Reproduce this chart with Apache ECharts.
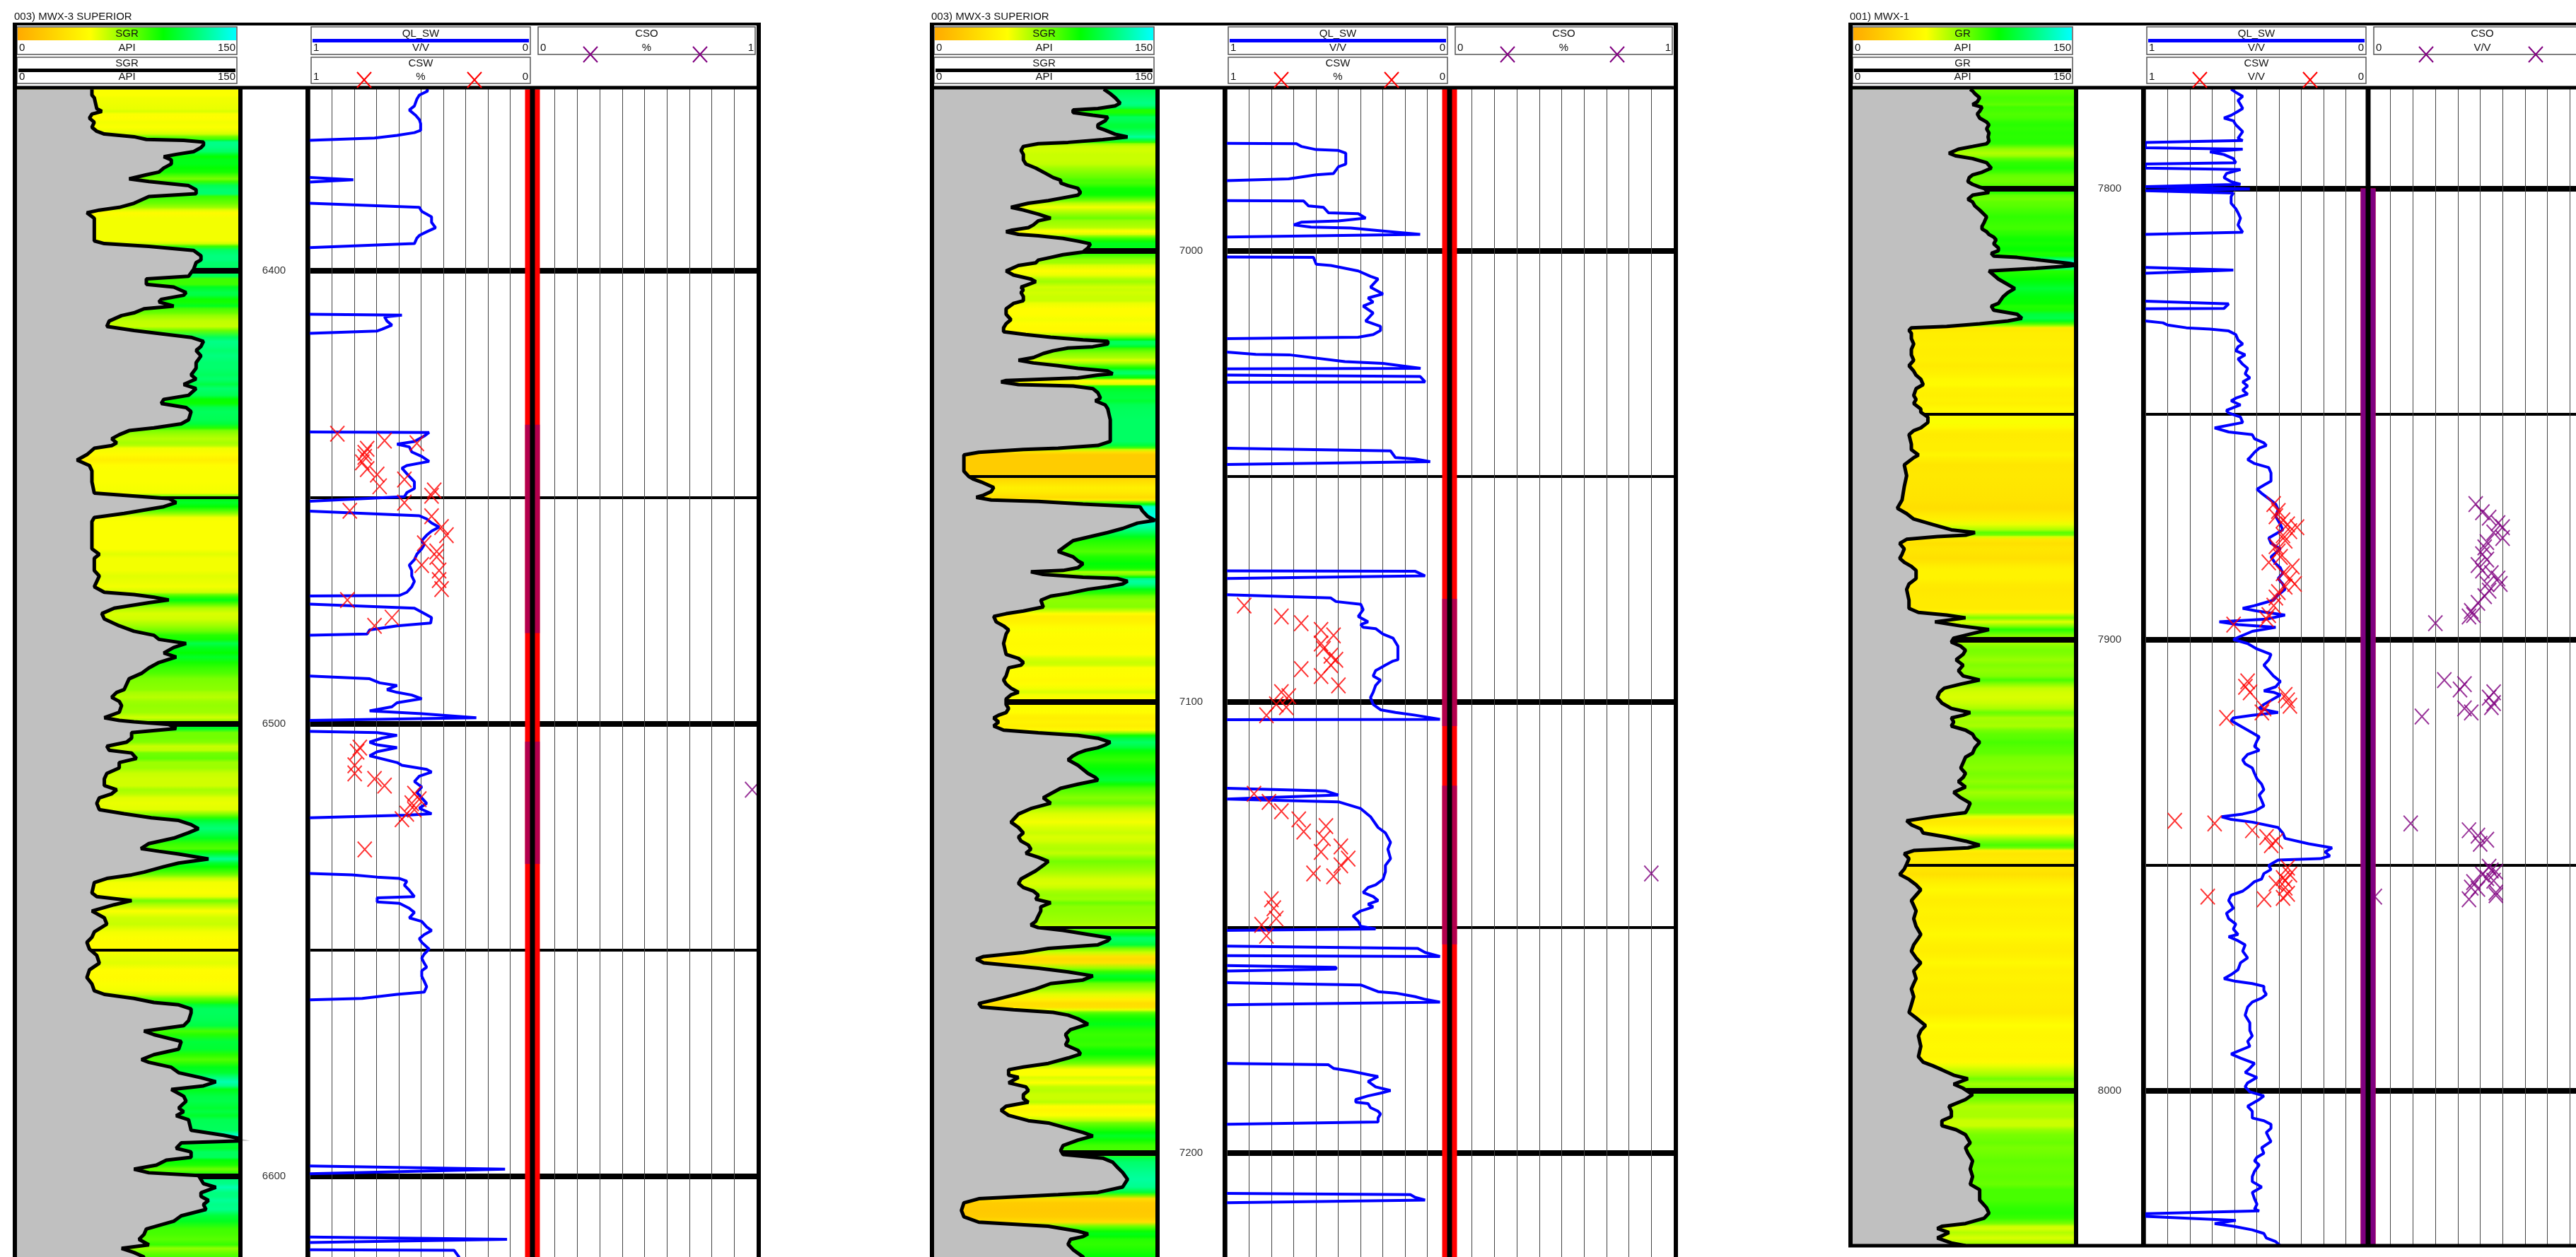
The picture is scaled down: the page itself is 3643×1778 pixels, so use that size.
<!DOCTYPE html>
<html><head><meta charset="utf-8">
<script src="https://cdn.jsdelivr.net/npm/echarts@6/dist/echarts.min.js"></script>
<style>html,body{margin:0;padding:0;background:#fff}#c{width:3643px;height:1778px}</style>
</head><body><div id="c"></div>
<script>
// ---------------- DATA ----------------
const WELL_TITLES = ["003) MWX-3 SUPERIOR", "003) MWX-3 SUPERIOR", "001) MWX-1"];
const GR_NAMES = ["SGR", "SGR", "GR"];
const CSW_UNITS = ["%", "%", "V/V"];
const CSO_UNITS = ["%", "%", "V/V"];
const GR_RANGE = [0, 150];
const SAT_RANGE = [0, 1];

// [depth ft, GR API]
const P1_GR = [[6359.9,50.8],[6361.2,50.8],[6361.8,52.4],[6364.2,54.1],[6364.8,57.5],[6365.4,50.8],[6366.3,49.1],[6367.2,52.4],[6368.3,50.8],[6369.2,54.1],[6369.8,59.2],[6370.4,79.3],[6371.0,87.7],[6371.2,113.0],[6371.6,126.4],[6372.2,126.4],[6372.8,124.7],[6373.7,119.7],[6374.3,107.9],[6374.8,99.5],[6375.5,104.6],[6376.4,104.6],[6377.3,99.5],[6378.2,96.2],[6378.8,87.7],[6379.7,76.0],[6380.3,89.4],[6381.2,116.3],[6382.1,121.4],[6383.0,121.4],[6383.6,89.4],[6385.1,79.3],[6386.0,69.3],[6386.6,55.8],[6387.2,47.4],[6388.4,52.4],[6391.6,52.4],[6393.4,52.4],[6394.0,59.2],[6394.6,89.4],[6395.5,119.7],[6396.7,124.7],[6397.6,124.7],[6398.2,121.4],[6399.7,119.7],[6401.2,116.3],[6401.8,87.7],[6403.0,87.7],[6403.6,106.2],[6404.8,114.6],[6405.4,113.0],[6406.3,97.8],[6406.9,96.2],[6407.8,106.2],[6408.4,86.1],[6409.3,79.3],[6409.9,70.9],[6411.1,62.5],[6412.3,60.9],[6413.2,79.3],[6414.7,118.0],[6415.6,126.4],[6416.7,124.7],[6417.6,121.4],[6418.8,124.7],[6420.3,121.4],[6421.5,121.4],[6423.0,118.0],[6423.9,121.4],[6425.1,113.0],[6426.0,121.4],[6427.5,116.3],[6428.4,99.5],[6429.3,97.8],[6430.2,114.6],[6431.1,118.0],[6432.9,116.3],[6433.8,111.3],[6434.7,92.8],[6435.3,76.0],[6436.2,69.3],[6437.1,64.2],[6438.0,67.6],[6438.6,64.2],[6439.2,52.4],[6440.6,47.4],[6441.8,40.7],[6443.0,49.1],[6444.2,50.8],[6446.6,50.8],[6449.1,52.4],[6450.3,102.9],[6451.2,107.9],[6452.1,99.5],[6453.6,72.6],[6454.5,52.4],[6455.4,50.8],[6457.8,50.8],[6461.4,50.8],[6462.6,55.8],[6463.5,52.4],[6466.2,52.4],[6467.4,55.8],[6468.6,54.1],[6469.8,52.4],[6471.0,59.2],[6471.5,79.3],[6472.1,92.8],[6472.7,102.9],[6473.3,89.4],[6474.5,65.9],[6475.7,57.5],[6476.9,59.2],[6478.4,69.3],[6479.6,79.3],[6480.5,92.8],[6481.4,96.2],[6482.3,114.6],[6483.2,106.2],[6484.4,99.5],[6485.3,107.9],[6486.5,96.2],[6487.7,89.4],[6488.9,84.4],[6490.1,76.0],[6491.3,74.3],[6492.5,72.6],[6493.1,67.6],[6494.2,64.2],[6495.1,69.3],[6496.0,70.9],[6497.5,69.3],[6498.7,59.2],[6499.3,69.3],[6499.6,79.3],[6500.2,102.9],[6501.1,107.9],[6502.0,77.7],[6503.2,77.7],[6504.1,74.3],[6505.0,60.9],[6505.9,62.5],[6506.5,77.7],[6507.7,81.0],[6508.6,69.3],[6509.8,69.3],[6511.0,60.9],[6512.2,59.2],[6513.7,59.2],[6514.6,67.6],[6515.5,64.2],[6516.4,55.8],[6517.6,54.1],[6519.0,55.8],[6519.9,72.6],[6520.8,91.1],[6521.4,109.6],[6522.3,118.0],[6523.2,123.0],[6524.1,116.3],[6525.3,106.2],[6526.5,89.4],[6527.6,84.0],[6528.2,96.2],[6528.8,109.6],[6529.9,129.8],[6530.8,109.6],[6531.6,99.5],[6532.8,86.1],[6533.4,77.7],[6534.2,60.9],[6535.1,52.4],[6537.4,50.8],[6538.2,54.1],[6539.1,77.7],[6540.0,65.9],[6541.4,50.8],[6542.9,59.2],[6544.3,60.9],[6546.0,52.4],[6547.2,50.8],[6548.3,47.4],[6549.8,49.1],[6551.2,54.1],[6552.9,55.8],[6554.4,49.1],[6556.1,47.4],[6557.5,50.8],[6559.0,52.4],[6559.8,59.2],[6560.7,79.3],[6561.6,92.8],[6562.1,109.6],[6563.0,118.0],[6563.9,118.0],[6565.6,116.3],[6566.7,113.0],[6567.9,86.1],[6568.7,92.8],[6570.2,111.3],[6571.9,109.6],[6573.1,92.8],[6574.2,84.4],[6574.8,89.4],[6575.9,104.6],[6577.1,109.6],[6578.2,124.7],[6579.1,134.8],[6580.0,126.4],[6580.8,104.6],[6582.3,113.0],[6583.4,114.6],[6584.9,109.6],[6585.7,113.0],[6586.6,107.9],[6587.5,116.3],[6589.8,118.0],[6590.9,139.9],[6592.1,158.0],[6592.6,111.3],[6593.8,107.9],[6594.6,118.0],[6595.8,118.0],[6596.4,101.2],[6597.5,94.5],[6598.4,79.3],[6599.2,89.4],[6599.8,123.0],[6601.6,126.4],[6602.4,134.8],[6603.6,124.7],[6604.4,124.7],[6605.3,129.8],[6606.2,126.4],[6607.3,128.1],[6608.7,111.3],[6609.9,106.2],[6611.6,87.7],[6612.8,86.1],[6613.9,82.7],[6615.1,89.4],[6615.9,70.9],[6616.8,79.3],[6617.8,86.1],[6620.0,84.0]];

// [depth, SW v/v]; null = gap
const P1_SW = [[6359.9,0.475],[6360.3,0.470],[6361.2,0.508],[6362.1,0.519],[6363.6,0.530],[6364.5,0.553],[6365.7,0.524],[6366.6,0.508],[6367.5,0.502],[6369.0,0.502],[6369.5,0.530],[6370.1,0.608],[6370.7,0.709],[6371.2,1.0],null,
[6379.4,1.0],[6379.9,0.804],[6380.4,1.0],null,
[6385.1,1.0],[6386.0,0.508],[6386.9,0.497],[6388.1,0.453],[6389.3,0.453],[6390.5,0.435],[6391.4,0.475],[6392.2,0.508],[6392.8,0.519],[6394.0,0.530],[6394.3,0.697],[6394.9,1.0],null,
[6409.6,1.0],[6409.8,0.586],[6410.2,0.664],[6411.1,0.653],[6412.0,0.631],[6412.9,0.675],[6413.3,0.697],[6413.8,1.0],null,
[6435.6,1.0],[6435.7,0.464],[6436.5,0.486],[6437.7,0.530],[6438.3,0.608],[6438.9,0.553],[6440.0,0.542],[6441.0,0.497],[6442.1,0.464],[6443.0,0.564],[6443.6,0.586],[6445.4,0.553],[6446.6,0.530],[6448.1,0.530],[6449.0,0.564],[6449.9,0.575],[6450.9,1.0],null,
[6453.1,1.0],[6454.1,0.508],[6454.8,0.475],[6455.7,0.453],[6456.6,0.419],[6457.5,0.453],[6458.4,0.475],[6459.6,0.497],[6460.5,0.486],[6461.4,0.497],[6462.6,0.519],[6463.8,0.530],[6465.0,0.553],[6466.2,0.542],[6467.4,0.542],[6468.6,0.530],[6469.8,0.542],[6471.0,0.564],[6471.7,0.597],[6471.8,1.0],null,
[6473.6,1.0],[6474.5,0.530],[6475.7,0.486],[6476.6,0.453],[6477.8,0.457],[6478.4,0.608],[6479.3,0.731],[6480.2,0.742],[6480.5,1.0],null,
[6489.5,1.0],[6490.1,0.731],[6491.0,0.686],[6491.6,0.608],[6492.5,0.653],[6493.1,0.608],[6493.7,0.542],[6494.5,0.497],[6495.4,0.608],[6496.3,0.631],[6497.2,0.731],[6497.8,0.497],[6498.7,0.252],[6499.3,1.0],null,
[6501.7,1.0],[6502.0,0.697],[6502.6,0.608],[6503.2,0.675],[6504.1,0.731],[6504.7,0.697],[6505.3,0.608],[6506.2,0.697],[6507.1,0.731],[6508.6,0.608],[6509.2,0.586],[6510.1,0.475],[6510.7,0.453],[6511.6,0.508],[6512.8,0.530],[6514.0,0.497],[6515.2,0.519],[6516.4,0.497],[6517.6,0.475],[6518.7,0.508],[6519.9,0.453],[6520.2,0.564],[6520.8,1.0],null,
[6533.1,1.0],[6533.4,0.809],[6533.9,0.697],[6534.2,0.597],[6534.8,0.564],[6535.7,0.575],[6536.8,0.553],[6538.2,0.530],[6538.5,0.697],[6539.4,0.697],[6539.7,0.597],[6540.8,0.553],[6541.7,0.530],[6542.9,0.553],[6543.7,0.497],[6544.9,0.475],[6545.7,0.453],[6546.6,0.486],[6547.5,0.508],[6548.3,0.497],[6549.8,0.464],[6550.9,0.486],[6551.8,0.497],[6552.9,0.486],[6553.8,0.475],[6554.6,0.497],[6555.8,0.497],[6556.9,0.486],[6558.1,0.475],[6559.3,0.486],[6559.8,0.608],[6560.7,0.764],[6561.0,1.0],null,
[6597.7,1.0],[6598.4,0.123],[6599.4,1.0],null,
[6613.4,1.0],[6613.9,0.114],[6614.6,1.0],null,
[6616.2,1.0],[6616.3,0.352],[6617.8,0.330],[6620.0,0.330]];

// core points [depth, value]
const P1_CSW = [[6436.0,0.876],[6437.5,0.664],[6438.1,0.519],[6439.3,0.742],[6440.2,0.753],[6441.1,0.753],[6442.3,0.764],[6443.8,0.742],[6445.0,0.697],[6446.1,0.575],[6447.6,0.686],[6448.5,0.441],[6449.7,0.453],[6451.2,0.575],[6453.0,0.820],[6454.2,0.453],[6456.6,0.408],[6458.4,0.386],[6460.2,0.486],[6462.0,0.430],[6463.2,0.430],[6465.0,0.497],[6466.2,0.419],[6468.3,0.419],[6470.3,0.408],[6472.7,0.831],[6476.6,0.631],[6478.4,0.709],[6505.3,0.775],[6506.2,0.787],[6509.2,0.798],[6511.0,0.798],[6512.2,0.709],[6513.7,0.664],[6515.5,0.530],[6516.7,0.508],[6517.6,0.542],[6519.0,0.530],[6519.9,0.564],[6521.1,0.586],[6527.8,0.753]];
const P1_CSO = [[6514.6,0.98]];
// depth intervals where the core curve reads 0 [top, bottom]
const P1_CSW_ZERO = [[6359.9,6620.0]];
const P1_CSO_ZERO = [[6434.0,6480.0],[6504.0,6531.0]];

const P2_GR = [[6964.2,115.0],[6965.2,119.4],[6966.1,122.7],[6967.3,126.1],[6967.9,122.7],[6968.5,111.0],[6968.8,94.2],[6969.4,94.2],[6970.0,107.6],[6970.4,117.7],[6971.2,116.0],[6972.1,111.0],[6972.7,111.0],[6973.3,116.0],[6974.2,122.7],[6974.8,131.1],[6975.4,114.3],[6976.0,90.8],[6976.3,70.6],[6976.9,60.5],[6977.8,58.9],[6978.7,60.5],[6979.9,60.5],[6980.8,62.2],[6981.7,68.9],[6982.9,75.7],[6983.8,80.7],[6984.4,85.8],[6985.0,85.8],[6985.6,90.8],[6986.2,97.5],[6987.1,99.2],[6987.7,97.5],[6988.3,87.4],[6988.9,77.4],[6989.5,63.9],[6990.4,52.1],[6991.0,60.5],[6991.9,70.6],[6992.8,79.0],[6993.4,70.6],[6994.3,67.3],[6994.9,63.9],[6995.5,52.1],[6995.8,48.8],[6996.4,57.2],[6996.7,70.6],[6997.3,87.4],[6997.9,97.5],[6998.5,105.9],[6999.4,104.3],[7000.3,100.9],[7000.9,87.4],[7001.5,79.0],[7002.1,70.6],[7002.7,68.9],[7003.3,57.2],[7004.5,48.8],[7005.4,53.8],[7006.3,65.6],[7006.9,68.9],[7007.5,63.9],[7008.1,58.9],[7008.7,60.5],[7009.3,58.9],[7010.2,60.5],[7011.1,60.5],[7011.7,53.8],[7012.9,48.8],[7014.1,48.8],[7015.3,52.1],[7016.2,48.8],[7017.1,47.1],[7018.0,47.1],[7018.6,62.2],[7019.2,79.0],[7019.8,100.9],[7020.1,117.7],[7020.7,117.7],[7021.3,107.6],[7021.6,90.8],[7022.2,80.7],[7022.8,74.0],[7023.7,67.3],[7024.3,57.2],[7024.9,67.3],[7025.5,84.1],[7026.1,97.5],[7026.7,117.7],[7027.3,121.0],[7027.6,111.0],[7028.2,97.5],[7028.8,48.8],[7029.1,45.4],[7029.7,57.2],[7030.0,94.2],[7030.6,107.6],[7031.5,111.0],[7032.7,112.7],[7033.3,109.3],[7034.2,116.0],[7035.1,117.7],[7037.5,119.4],[7042.3,119.4],[7043.2,111.0],[7043.8,84.1],[7044.1,60.5],[7044.7,30.3],[7045.3,20.2],[7046.5,20.2],[7048.9,20.2],[7050.1,23.6],[7050.7,26.9],[7051.3,32.0],[7052.5,40.4],[7053.4,38.7],[7054.2,33.6],[7054.7,28.6],[7055.3,38.7],[7055.6,70.6],[7056.2,100.9],[7056.8,139.6],[7057.7,141.2],[7058.9,144.6],[7059.8,149.6],[7060.4,137.9],[7061.6,127.8],[7062.5,117.7],[7063.4,105.9],[7064.3,94.2],[7065.5,89.1],[7066.7,84.1],[7067.9,94.2],[7068.8,97.5],[7069.4,100.9],[7070.3,97.5],[7070.9,87.4],[7071.2,65.6],[7071.8,74.0],[7072.4,100.9],[7072.7,124.4],[7073.3,131.1],[7073.9,127.8],[7074.5,117.7],[7075.1,104.3],[7076.0,90.8],[7076.6,79.0],[7077.5,72.3],[7079.0,74.0],[7079.9,60.5],[7080.5,48.8],[7081.1,40.4],[7082.3,42.1],[7083.2,47.1],[7084.1,50.5],[7085.0,48.8],[7087.1,47.1],[7089.5,48.8],[7090.4,57.2],[7091.3,60.5],[7091.9,58.9],[7092.5,50.5],[7094.3,48.8],[7095.2,47.1],[7096.1,48.8],[7097.0,52.1],[7097.9,57.2],[7098.5,52.1],[7099.4,48.8],[7100.6,48.8],[7101.5,50.5],[7102.4,48.8],[7103.0,43.7],[7103.6,40.4],[7104.5,43.7],[7105.4,40.4],[7106.3,47.1],[7106.9,70.6],[7107.5,97.5],[7108.1,111.0],[7109.0,119.4],[7109.6,116.0],[7110.2,111.0],[7110.8,102.6],[7111.4,97.5],[7112.0,94.2],[7112.9,90.8],[7114.1,97.5],[7115.0,100.9],[7115.9,104.3],[7116.8,109.3],[7117.4,111.0],[7118.3,97.5],[7119.2,85.8],[7120.1,80.7],[7121.3,74.0],[7122.5,79.0],[7123.7,65.6],[7124.9,57.2],[7125.5,55.5],[7126.7,52.1],[7127.9,57.2],[7129.1,60.5],[7130.0,57.2],[7130.9,58.9],[7131.8,63.9],[7132.7,65.6],[7133.6,62.2],[7134.5,70.6],[7135.4,77.4],[7136.3,74.0],[7137.5,68.9],[7138.4,63.9],[7139.3,58.9],[7140.3,57.2],[7141.2,60.5],[7142.0,67.3],[7142.9,70.6],[7143.8,68.9],[7144.6,79.0],[7145.5,72.3],[7146.4,72.3],[7147.5,70.6],[7148.7,68.9],[7149.5,65.6],[7150.1,70.6],[7150.7,87.4],[7151.6,104.3],[7152.4,119.4],[7153.0,117.7],[7153.9,111.0],[7154.7,77.4],[7155.6,60.5],[7156.5,33.6],[7157.1,28.6],[7157.9,33.6],[7159.1,70.6],[7159.9,90.8],[7160.8,107.6],[7161.7,100.9],[7162.5,79.0],[7163.7,68.9],[7164.9,55.5],[7166.0,42.1],[7166.9,30.3],[7167.7,32.0],[7168.3,53.8],[7168.9,80.7],[7169.5,90.8],[7170.3,97.5],[7171.5,104.3],[7172.7,92.5],[7173.8,89.1],[7175.0,90.8],[7176.1,89.1],[7177.3,97.5],[7178.1,99.2],[7179.0,90.8],[7180.2,77.4],[7181.0,60.5],[7181.6,50.5],[7182.8,50.5],[7183.3,57.2],[7184.5,50.5],[7185.4,62.2],[7186.2,63.9],[7187.1,60.5],[7188.0,60.5],[7188.8,63.9],[7189.7,48.8],[7190.6,45.4],[7191.7,50.5],[7192.9,63.9],[7193.4,77.4],[7194.6,90.8],[7195.5,100.9],[7196.3,107.6],[7197.2,97.5],[7198.4,87.4],[7199.5,85.8],[7200.4,87.4],[7201.2,114.3],[7202.1,121.0],[7203.3,124.4],[7204.4,127.8],[7205.9,131.1],[7207.6,127.8],[7208.8,111.0],[7209.3,84.1],[7210.2,30.3],[7211.1,20.2],[7212.8,18.5],[7214.2,20.2],[7215.4,30.3],[7216.3,77.4],[7217.4,97.5],[7218.0,104.3],[7218.6,100.9],[7219.2,92.5],[7220.3,90.8],[7221.5,94.2],[7223.1,100.9],[7226.0,105.0]];

const P2_SW = [[6976.2,1.0],[6976.3,0.688],[6976.9,0.666],[6977.6,0.599],[6977.8,0.499],[6978.4,0.466],[6980.8,0.466],[6981.4,0.499],[6982.9,0.521],[6983.2,0.599],[6984.1,0.722],[6984.5,1.0],null,
[6988.9,1.0],[6989.0,0.655],[6990.1,0.633],[6990.4,0.566],[6991.6,0.544],[6991.8,0.410],[6992.8,0.377],[6993.4,0.499],[6993.7,0.666],[6994.3,0.700],[6994.8,0.622],[6995.0,0.444],[6995.8,0.265],[6996.4,0.132],[6997.0,1.0],null,
[7001.4,1.0],[7001.5,0.611],[7003.0,0.599],[7003.3,0.533],[7004.5,0.410],[7005.7,0.355],[7006.3,0.321],[7008.1,0.355],[7009.6,0.299],[7010.5,0.366],[7011.4,0.343],[7012.3,0.388],[7013.8,0.343],[7015.6,0.377],[7016.8,0.310],[7017.7,0.310],[7018.6,0.343],[7019.2,0.410],[7019.5,1.0],null,
[7022.5,1.0],[7023.0,0.870],[7023.1,0.720],[7024.6,0.470],[7025.0,0.300],[7026.1,0.130],[7026.2,1.0],null,
[7027.6,1.0],[7027.9,0.132],[7029.1,0.110],[7029.2,1.0],null,
[7043.8,1.0],[7044.4,0.265],[7045.9,0.243],[7046.2,0.154],[7046.8,0.087],[7047.4,1.0],null,
[7071.0,1.0],[7071.1,0.154],[7072.1,0.110],[7072.7,1.0],null,
[7076.3,1.0],[7077.0,0.533],[7077.8,0.510],[7078.4,0.399],[7079.6,0.388],[7081.1,0.410],[7082.3,0.366],[7082.9,0.399],[7083.5,0.388],[7083.8,0.332],[7085.0,0.299],[7085.9,0.254],[7087.7,0.232],[7090.7,0.232],[7091.0,0.254],[7091.9,0.288],[7092.5,0.310],[7093.1,0.332],[7094.3,0.343],[7095.2,0.310],[7096.4,0.332],[7097.9,0.343],[7099.1,0.355],[7100.6,0.343],[7101.8,0.310],[7102.4,0.243],[7103.0,0.154],[7103.9,0.043],[7104.0,1.0],null,
[7119.2,1.0],[7119.8,0.555],[7120.7,0.499],[7121.6,1.0],[7122.2,0.499],[7123.7,0.399],[7125.5,0.355],[7127.9,0.321],[7129.1,0.288],[7131.2,0.265],[7132.7,0.277],[7134.8,0.265],[7136.3,0.288],[7137.7,0.288],[7139.4,0.299],[7140.6,0.332],[7141.2,0.366],[7142.3,0.388],[7143.2,0.343],[7144.1,0.321],[7144.9,0.366],[7145.5,0.343],[7146.4,0.399],[7147.5,0.433],[7148.7,0.410],[7149.8,0.399],[7150.4,0.332],[7150.7,1.0],null,
[7154.2,1.0],[7154.7,0.143],[7155.6,0.110],[7156.5,0.043],[7156.3,1.0],null,
[7158.5,1.0],[7158.9,0.510],[7159.3,0.510],[7159.7,1.0],null,
[7162.3,1.0],[7162.8,0.399],[7164.3,0.321],[7164.6,0.243],[7165.4,0.154],[7166.0,0.110],[7166.6,0.043],[7167.2,1.0],null,
[7180.2,1.0],[7180.5,0.544],[7181.3,0.521],[7181.9,0.444],[7182.8,0.355],[7183.1,0.321],[7184.2,0.366],[7185.4,0.332],[7186.2,0.265],[7186.8,0.310],[7187.4,0.366],[7188.2,0.421],[7188.8,0.421],[7189.1,0.366],[7190.0,0.355],[7190.8,0.321],[7191.4,0.310],[7192.3,0.321],[7193.2,0.321],[7193.7,1.0],null,
[7209.0,1.0],[7209.3,0.176],[7209.9,0.154],[7210.5,0.110],[7211.1,1.0]];

const P2_CSW = [[7078.7,0.922],[7081.1,0.755],[7082.6,0.666],[7084.1,0.577],[7085.3,0.521],[7087.1,0.577],[7088.3,0.566],[7089.8,0.533],[7090.7,0.510],[7091.9,0.533],[7092.8,0.666],[7094.3,0.577],[7096.4,0.499],[7097.9,0.755],[7098.8,0.722],[7100.6,0.778],[7101.2,0.733],[7103.0,0.822],[7120.4,0.878],[7122.2,0.811],[7124.3,0.755],[7126.1,0.677],[7127.6,0.555],[7128.8,0.655],[7130.3,0.566],[7132.1,0.488],[7133.3,0.577],[7134.8,0.455],[7136.3,0.488],[7138.1,0.611],[7138.7,0.521],[7143.8,0.800],[7145.8,0.789],[7148.1,0.778],[7149.5,0.844],[7151.9,0.822]];
const P2_CSO = [[7138.1,0.90]];
const P2_CSW_ZERO = [[6964.2,7226.0]];
const P2_CSO_ZERO = [[7077.2,7105.4],[7118.6,7153.8]];

const P3_GR = [[7778.0,79.7],[7778.4,81.3],[7779.0,82.9],[7779.9,86.1],[7780.8,84.5],[7781.4,81.3],[7782.0,87.7],[7782.9,86.1],[7783.5,84.5],[7784.4,86.1],[7785.3,90.8],[7785.9,92.4],[7786.8,90.8],[7787.7,92.4],[7788.6,91.8],[7789.5,92.4],[7790.1,90.8],[7790.7,81.3],[7791.3,71.7],[7792.2,65.3],[7792.8,70.1],[7793.4,81.3],[7794.3,90.8],[7795.5,94.0],[7796.4,87.7],[7797.0,81.3],[7797.6,79.0],[7798.5,78.1],[7799.1,81.3],[7799.7,86.1],[7800.0,89.2],[7800.9,92.4],[7801.5,81.3],[7802.4,78.1],[7803.0,81.3],[7803.9,82.9],[7804.8,86.1],[7806.3,90.8],[7807.5,89.2],[7808.4,87.7],[7809.0,87.7],[7809.6,90.8],[7810.2,92.4],[7810.8,95.6],[7811.4,97.2],[7812.3,95.6],[7813.2,98.8],[7813.8,98.8],[7814.4,94.0],[7815.0,95.6],[7815.3,111.5],[7815.9,127.5],[7816.6,146.6],[7817.0,153.0],[7817.2,146.6],[7817.7,124.3],[7818.3,92.4],[7819.2,95.6],[7820.1,98.8],[7821.0,103.6],[7822.2,109.9],[7823.1,105.2],[7824.0,102.0],[7825.5,98.8],[7826.1,94.0],[7827.0,95.6],[7827.9,111.5],[7828.8,114.7],[7829.4,105.2],[7830.0,86.1],[7830.6,63.7],[7830.9,39.8],[7831.5,38.2],[7832.1,39.8],[7833.3,39.8],[7834.5,41.4],[7835.7,39.8],[7836.9,39.8],[7838.1,41.4],[7839.3,38.2],[7840.5,41.4],[7841.4,43.0],[7842.3,46.2],[7843.5,47.8],[7844.4,43.0],[7845.9,41.4],[7846.8,43.0],[7847.7,41.4],[7848.9,46.2],[7849.6,46.2],[7850.7,51.0],[7851.9,51.0],[7853.1,46.2],[7853.7,41.4],[7854.6,38.2],[7856.7,39.8],[7857.9,39.8],[7859.1,44.6],[7859.7,41.4],[7861.3,35.0],[7863.7,36.6],[7866.1,35.0],[7869.1,33.5],[7870.9,30.3],[7872.1,36.6],[7873.3,41.4],[7874.5,54.2],[7875.7,66.9],[7876.3,82.9],[7876.9,76.5],[7877.2,57.4],[7877.8,36.6],[7878.7,31.9],[7879.9,35.0],[7881.1,33.5],[7882.0,31.9],[7882.9,35.0],[7883.8,39.8],[7884.7,43.0],[7886.5,43.0],[7887.7,38.2],[7888.9,36.6],[7891.3,38.2],[7893.1,38.2],[7894.0,44.6],[7894.6,63.7],[7895.2,76.5],[7896.1,55.8],[7897.0,73.3],[7897.8,92.4],[7898.8,79.7],[7899.7,68.5],[7900.6,66.9],[7901.5,73.3],[7902.4,76.5],[7903.3,74.9],[7904.5,70.1],[7905.7,74.9],[7906.9,71.7],[7908.1,74.9],[7909.0,86.1],[7909.9,73.3],[7910.8,62.1],[7911.7,58.9],[7912.9,57.4],[7914.1,60.5],[7915.3,66.9],[7916.2,79.7],[7916.8,74.9],[7917.4,66.9],[7918.3,68.5],[7919.2,66.9],[7920.1,76.5],[7921.0,81.3],[7921.9,82.9],[7922.8,86.1],[7924.0,82.9],[7925.2,81.3],[7926.1,76.5],[7927.3,74.9],[7928.5,73.3],[7929.7,76.5],[7930.6,74.9],[7931.5,71.7],[7932.7,76.5],[7933.9,68.5],[7935.1,73.3],[7936.3,79.7],[7937.5,78.1],[7938.4,76.5],[7939.3,54.2],[7940.2,36.6],[7941.1,39.8],[7942.0,46.2],[7942.9,47.8],[7943.8,63.7],[7944.7,76.5],[7945.6,86.1],[7946.2,78.1],[7946.8,41.4],[7947.5,35.0],[7948.6,38.2],[7949.8,36.6],[7950.9,35.0],[7952.1,31.9],[7953.2,38.2],[7954.4,43.0],[7955.5,46.2],[7956.7,43.0],[7957.9,39.8],[7959.0,41.4],[7960.2,43.0],[7961.9,41.4],[7963.6,43.0],[7965.4,46.2],[7966.2,44.6],[7967.7,41.4],[7969.1,39.8],[7970.6,43.0],[7971.7,46.2],[7973.5,41.4],[7975.2,43.0],[7976.3,41.4],[7977.5,39.8],[7979.2,41.4],[7981.0,39.8],[7982.7,38.2],[7983.9,43.0],[7985.6,49.4],[7986.7,46.2],[7987.9,44.6],[7990.2,46.2],[7992.5,44.6],[7993.7,47.8],[7994.5,54.2],[7995.4,60.5],[7996.6,68.5],[7997.4,78.1],[7998.0,73.3],[7998.6,68.5],[7999.5,74.9],[8000.9,81.3],[8002.0,76.5],[8003.5,65.3],[8004.6,66.9],[8005.8,66.9],[8006.7,60.5],[8007.8,60.5],[8008.7,70.1],[8009.8,76.5],[8010.7,78.1],[8011.6,79.7],[8012.7,76.5],[8013.9,78.1],[8015.6,81.3],[8017.4,79.7],[8019.1,81.3],[8020.8,79.7],[8022.0,86.1],[8024.3,86.1],[8026.0,90.8],[8027.2,92.4],[8028.3,89.2],[8029.5,76.5],[8030.1,60.5],[8030.6,57.4],[8031.5,65.3],[8032.7,57.4],[8033.8,66.9],[8034.4,76.5]];

const P3_SW = [[7778.0,0.615],[7778.7,0.594],[7779.6,0.563],[7780.5,0.584],[7781.4,0.573],[7782.3,0.563],[7782.9,0.584],[7783.8,0.615],[7784.4,0.647],[7785.0,0.605],[7785.9,0.594],[7787.4,0.563],[7788.9,0.584],[7789.4,0.563],[7789.8,1.0],[7791.0,1.0],[7791.3,0.563],[7791.9,0.710],[7792.5,0.647],[7793.4,0.605],[7794.3,0.594],[7794.6,1.0],[7795.5,1.0],[7795.8,0.573],[7796.7,0.636],[7797.6,0.647],[7798.5,0.615],[7799.1,0.573],[7799.6,1.0],[7800.1,0.531],[7800.5,1.0],[7801.0,0.605],[7801.8,0.615],[7803.3,0.615],[7804.5,0.594],[7805.4,0.584],[7806.6,0.573],[7808.1,0.584],[7809.0,0.573],[7809.7,0.563],[7810.2,1.0],null,
[7817.5,1.0],[7818.1,0.605],[7818.8,1.0],null,
[7825.0,1.0],[7825.6,0.626],[7826.6,0.647],[7826.7,1.0],null,
[7829.4,1.0],[7829.8,0.921],[7830.3,0.900],[7830.9,0.816],[7831.2,0.710],[7831.6,0.626],[7832.4,0.594],[7833.6,0.584],[7834.5,0.563],[7835.1,0.584],[7836.0,0.594],[7836.9,0.552],[7837.8,0.584],[7839.0,0.563],[7839.9,0.541],[7841.1,0.552],[7842.0,0.531],[7842.9,0.563],[7843.8,0.541],[7844.7,0.563],[7845.6,0.541],[7846.5,0.594],[7847.1,0.615],[7848.0,0.573],[7849.2,0.636],[7849.8,0.626],[7850.7,0.573],[7851.9,0.563],[7853.1,0.689],[7854.0,0.626],[7854.6,0.520],[7855.5,0.510],[7856.4,0.468],[7857.0,0.457],[7857.6,0.489],[7858.5,0.510],[7859.7,0.531],[7860.1,0.541],[7861.0,0.510],[7861.9,0.446],[7863.1,0.436],[7864.9,0.436],[7865.8,0.468],[7866.7,0.499],[7867.6,0.478],[7868.8,0.446],[7870.0,0.415],[7871.2,0.404],[7872.7,0.415],[7874.5,0.394],[7875.7,0.383],[7877.5,0.446],[7878.7,0.436],[7879.9,0.394],[7881.7,0.436],[7883.2,0.415],[7884.1,0.394],[7885.3,0.383],[7886.5,0.404],[7887.7,0.383],[7888.9,0.373],[7890.1,0.404],[7891.3,0.425],[7892.5,0.510],[7893.1,0.563],[7893.7,0.499],[7894.6,0.373],[7895.5,0.457],[7896.1,0.668],[7896.7,0.584],[7897.3,0.415],[7898.2,0.520],[7899.1,0.563],[7900.0,0.605],[7900.9,0.541],[7902.1,0.499],[7903.3,0.436],[7904.5,0.446],[7905.7,0.468],[7906.9,0.446],[7908.1,0.425],[7909.3,0.394],[7910.5,0.415],[7911.4,0.468],[7911.7,0.425],[7912.3,0.394],[7913.5,0.436],[7914.4,0.468],[7915.3,0.489],[7916.2,0.404],[7916.8,0.520],[7917.4,0.605],[7918.0,0.615],[7918.9,0.584],[7919.8,0.552],[7920.7,0.520],[7921.6,0.489],[7922.5,0.499],[7923.7,0.510],[7924.6,0.489],[7925.5,0.541],[7926.7,0.563],[7927.6,0.552],[7928.5,0.520],[7929.7,0.510],[7930.9,0.499],[7932.1,0.478],[7933.3,0.468],[7934.5,0.489],[7935.7,0.478],[7936.9,0.468],[7938.1,0.510],[7938.7,0.563],[7939.3,0.658],[7939.9,0.615],[7940.5,0.520],[7941.7,0.404],[7942.9,0.383],[7944.1,0.373],[7945.3,0.267],[7946.2,0.162],[7947.1,0.193],[7948.0,0.172],[7948.6,0.214],[7948.9,0.404],[7949.5,0.425],[7950.1,0.446],[7951.0,0.436],[7951.9,0.468],[7953.1,0.478],[7953.7,0.510],[7954.1,0.520],[7955.0,0.541],[7955.8,0.563],[7956.7,0.615],[7957.9,0.626],[7958.7,0.615],[7959.6,0.605],[7960.7,0.636],[7961.9,0.626],[7963.1,0.594],[7964.2,0.605],[7965.4,0.584],[7965.9,0.626],[7966.8,0.584],[7967.7,0.552],[7969.1,0.563],[7970.6,0.541],[7971.7,0.573],[7973.2,0.584],[7974.3,0.615],[7975.2,0.647],[7975.8,0.594],[7976.3,0.520],[7976.9,0.468],[7977.8,0.468],[7978.7,0.457],[7979.5,0.478],[7980.4,0.520],[7981.5,0.541],[7983.3,0.552],[7985.0,0.531],[7986.7,0.531],[7987.9,0.520],[7989.1,0.541],[7990.2,0.531],[7991.9,0.615],[7992.8,0.573],[7994.0,0.510],[7995.1,0.531],[7996.0,0.552],[7997.1,0.499],[7998.3,0.541],[7999.2,0.552],[8000.3,0.531],[8001.2,0.468],[8002.0,0.489],[8003.5,0.541],[8004.6,0.520],[8006.1,0.520],[8006.7,0.468],[8007.5,0.436],[8008.4,0.436],[8009.3,0.457],[8010.4,0.446],[8011.3,0.436],[8012.7,0.478],[8013.9,0.468],[8014.8,0.499],[8015.6,0.510],[8016.5,0.489],[8017.9,0.510],[8019.1,0.520],[8020.2,0.520],[8021.4,0.478],[8022.6,0.520],[8024.0,0.510],[8025.2,0.499],[8026.3,0.510],[8026.7,0.489],[8027.3,1.0],[8027.9,1.0],[8028.8,0.594],[8029.5,0.689],[8030.1,0.605],[8030.9,0.520],[8031.7,0.468],[8032.7,0.457],[8033.5,0.415],[8034.4,0.394]];

const P3_CSW = [[7870.0,0.424],[7871.5,0.403],[7872.7,0.414],[7873.6,0.382],[7874.5,0.361],[7875.1,0.319],[7876.0,0.351],[7876.9,0.382],[7878.1,0.372],[7879.3,0.414],[7880.5,0.403],[7881.7,0.393],[7882.9,0.446],[7883.8,0.340],[7885.3,0.382],[7886.5,0.351],[7887.7,0.330],[7888.3,0.372],[7889.5,0.403],[7890.7,0.414],[7892.5,0.424],[7894.6,0.446],[7895.5,0.456],[7896.7,0.604],[7909.3,0.541],[7910.5,0.551],[7911.7,0.530],[7912.3,0.372],[7913.5,0.361],[7914.7,0.351],[7915.3,0.467],[7916.2,0.477],[7917.4,0.636],[7940.2,0.868],[7940.8,0.689],[7942.3,0.520],[7943.8,0.456],[7944.7,0.414],[7945.6,0.435],[7950.6,0.361],[7952.1,0.351],[7952.9,0.382],[7953.5,0.372],[7954.1,0.414],[7955.0,0.372],[7956.4,0.361],[7957.6,0.467],[7957.0,0.720],[7957.3,0.382]];
const P3_CSO = [[7870.0,0.48],[7871.8,0.51],[7873.0,0.54],[7874.2,0.58],[7875.1,0.60],[7876.3,0.56],[7877.5,0.60],[7878.4,0.53],[7879.6,0.52],[7881.1,0.51],[7882.3,0.53],[7883.5,0.49],[7884.7,0.51],[7885.3,0.55],[7886.5,0.58],[7887.7,0.53],[7887.7,0.59],[7889.2,0.54],[7890.4,0.52],[7891.9,0.49],[7893.7,0.46],[7894.9,0.45],[7894.6,0.47],[7896.4,0.30],[7909.0,0.34],[7909.9,0.43],[7911.1,0.41],[7911.7,0.56],[7912.9,0.54],[7914.1,0.56],[7915.0,0.55],[7915.3,0.43],[7916.2,0.46],[7917.1,0.24],[7940.8,0.19],[7942.3,0.45],[7943.5,0.49],[7944.4,0.53],[7945.3,0.50],[7950.4,0.54],[7951.2,0.55],[7951.5,0.57],[7952.1,0.51],[7952.9,0.53],[7953.5,0.56],[7953.8,0.47],[7955.0,0.46],[7955.3,0.49],[7956.1,0.57],[7957.6,0.45],[7956.7,0.57],[7957.0,0.03]];
const P3_CSW_ZERO = [[7800.0,8034.4]];
const P3_CSO_ZERO = [[7800.0,8034.4]];

// ---------------- STYLE / LAYOUT ----------------
const FONT = '"Liberation Sans", Arial, Helvetica, sans-serif';
const GR_PALETTE = [[0,[255,170,0]],[50,[255,255,0]],[100,[0,255,0]],[150,[0,255,255]]];
function grColor(v) {
  v = Math.max(GR_PALETTE[0][0], Math.min(GR_PALETTE[GR_PALETTE.length-1][0], v));
  for (let i = 0; i < GR_PALETTE.length - 1; i++) {
    const [a, ca] = GR_PALETTE[i], [b, cb] = GR_PALETTE[i+1];
    if (v <= b) { const t = (v - a) / (b - a); return 'rgb(' + ca.map((c, j) => Math.round(c + (cb[j] - c) * t)).join(',') + ')'; }
  }
  return 'rgb(0,255,255)';
}
const PANELS = [
  {gr: P1_GR, sw: P1_SW, csw: P1_CSW, cso: P1_CSO, cswZero: P1_CSW_ZERO, csoZero: P1_CSO_ZERO},
  {gr: P2_GR, sw: P2_SW, csw: P2_CSW, cso: P2_CSO, cswZero: P2_CSW_ZERO, csoZero: P2_CSO_ZERO},
  {gr: P3_GR, sw: P3_SW, csw: P3_CSW, cso: P3_CSO, cswZero: P3_CSW_ZERO, csoZero: P3_CSO_ZERO}
];
const LAYOUT = [
  {ox: 0,    refDepth: 6400, refY: 383,   ppf: 6.405, min: 6300, max: 6700, bottomY: 1778, csoOpacity: 0.6},
  {ox: 1297, refDepth: 7000, refY: 354.5, ppf: 6.38,  min: 6900, max: 7300, bottomY: 1778, csoOpacity: 0.6},
  {ox: 2596, refDepth: 7800, refY: 266.5, ppf: 6.38,  min: 7700, max: 8100, bottomY: 1762, csoOpacity: 1}
];
const TRACKS = [
  {left: 24,  width: 313, range: GR_RANGE,  inverse: false, vlines: false},
  {left: 438, width: 315, range: SAT_RANGE, inverse: true,  vlines: true},
  {left: 753, width: 317, range: SAT_RANGE, inverse: false, vlines: true}
];
const X_PATH = 'path://M0,0L20,22M20,0L0,22';

const grids = [], xAxes = [], yAxes = [], series = [], G = [];
const gline = (x1, y1, x2, y2, w, c, z) => G.push({type: 'line', silent: true, z: z || 110, shape: {x1, y1, x2, y2}, style: {stroke: c || '#000', lineWidth: w}});
const grect = (x, y, w, h, style, z) => G.push({type: 'rect', silent: true, z: z || 105, shape: {x, y, width: w, height: h}, style});
const gtext = (s, x, y, align, size) => G.push({type: 'text', silent: true, z: 120, style: {text: s, x, y, font: (size || 15) + 'px ' + FONT, fill: '#111', textAlign: align, textVerticalAlign: 'middle', align: align, verticalAlign: 'middle'}});
const gx = (cx, cy, c) => { gline(cx-10, cy-11, cx+10, cy+11, 2, c, 125); gline(cx+10, cy-11, cx-10, cy+11, 2, c, 125); };

PANELS.forEach((P, p) => {
  const L = LAYOUT[p], ox = L.ox;
  const top = L.refY - (L.refDepth - L.min) * L.ppf;
  const height = (L.max - L.min) * L.ppf;
  const g0 = grids.length;
  TRACKS.forEach((t, k) => {
    const g = grids.length;
    grids.push({left: ox + t.left, top: top, width: t.width, height: height, containLabel: false, outerBoundsMode: 'none', show: false});
    xAxes.push({gridIndex: g, type: 'value', min: t.range[0], max: t.range[1], inverse: t.inverse, interval: t.vlines ? 0.1 : undefined, z: 1,
      axisLine: {show: false}, axisTick: {show: false}, axisLabel: {show: false},
      splitLine: {show: t.vlines, lineStyle: {color: '#444', width: 1}}});
    yAxes.push({gridIndex: g, type: 'value', position: 'left', inverse: true, min: L.min, max: L.max, interval: 100, z: 1,
      axisLine: {show: false}, axisTick: {show: false},
      axisLabel: {show: k === 1, margin: 50.5, align: 'center', fontSize: 15, color: '#333', fontFamily: FONT, formatter: v => String(v)},
      splitLine: {show: true, lineStyle: {color: '#000', width: 8}}});
    yAxes.push({gridIndex: g, type: 'value', position: 'right', inverse: true, min: L.min, max: L.max, interval: 50, z: 1,
      axisLine: {show: false}, axisTick: {show: false}, axisLabel: {show: false},
      splitLine: {show: true, lineStyle: {color: '#000', width: 4}}});
  });
  const gGR = g0, gSW = g0 + 1, gSO = g0 + 2;
  const grXY = P.gr.map(([d, v]) => [v, d]);
  const d0 = P.gr[0][0], d1 = P.gr[P.gr.length - 1][0];
  series.push({type: 'custom', xAxisIndex: gGR, yAxisIndex: 2 * gGR, data: grXY, z: 0, silent: true, clip: false,
    renderItem: (params, api) => {
      if (params.dataIndex !== 0) return null;
      const a = api.coord([GR_RANGE[0], d0]), b = api.coord([GR_RANGE[1], d1]);
      const stops = P.gr.map(([d, v]) => ({offset: Math.min(1, Math.max(0, (d - d0) / (d1 - d0))), color: grColor(v)}));
      return {type: 'rect', shape: {x: a[0], y: a[1], width: b[0] - a[0], height: b[1] - a[1]},
        style: {fill: new echarts.graphic.LinearGradient(0, 0, 0, 1, stops)}};
    }});
  series.push({type: 'custom', xAxisIndex: gGR, yAxisIndex: 2 * gGR, data: grXY, z: 2, silent: true, clip: false,
    renderItem: (params, api) => {
      if (params.dataIndex !== 0) return null;
      const pts = [api.coord([GR_RANGE[0], d0])].concat(P.gr.map(([d, v]) => api.coord([v, d]))).concat([api.coord([GR_RANGE[0], d1])]);
      return {type: 'polygon', shape: {points: pts}, style: {fill: '#C0C0C0'}};
    }});
  series.push({type: 'line', xAxisIndex: gGR, yAxisIndex: 2 * gGR, data: grXY, symbol: 'none', z: 3, silent: true, clip: false,
    lineStyle: {color: '#000', width: 5}});
  const runs = r => r.flatMap(([a, b]) => [[0, a], [0, b], ['-', '-']]);
  series.push({type: 'line', xAxisIndex: gSW, yAxisIndex: 2 * gSW, data: runs(P.cswZero), symbol: 'none', z: 3, silent: true, clip: false,
    lineStyle: {color: '#FF0000', width: 21}});
  series.push({type: 'line', xAxisIndex: gSO, yAxisIndex: 2 * gSO, data: runs(P.csoZero), symbol: 'none', z: 4, silent: true, clip: false,
    lineStyle: {color: '#800080', width: 21, opacity: L.csoOpacity}});
  series.push({type: 'line', xAxisIndex: gSW, yAxisIndex: 2 * gSW, data: P.sw.map(pt => pt ? [pt[1], pt[0]] : ['-', '-']), symbol: 'none', z: 5, silent: true, clip: false,
    connectNulls: false, lineStyle: {color: '#0000FF', width: 4}});
  series.push({type: 'scatter', xAxisIndex: gSW, yAxisIndex: 2 * gSW, data: P.csw.map(([d, v]) => [v, d]), symbol: X_PATH, symbolSize: [20, 22], z: 6, silent: true,
    itemStyle: {color: '#FF0000', borderColor: '#FF0000', borderWidth: 2}});
  series.push({type: 'scatter', xAxisIndex: gSO, yAxisIndex: 2 * gSO, data: P.cso.map(([d, v]) => [v, d]), symbol: X_PATH, symbolSize: [20, 22], z: 6, silent: true, clip: false,
    itemStyle: {color: '#800080', borderColor: '#800080', borderWidth: 2}});

  // ---- frame, header (layout only) ----
  const yb = L.bottomY;
  grect(ox + 8, 0, 1080, 122, {fill: '#fff'}, 100);
  if (yb < 1778) grect(ox + 8, yb, 1100, 1778 - yb, {fill: '#fff'}, 100);
  gtext(WELL_TITLES[p], ox + 20, 24, 'left', 15);
  gline(ox + 18, 34, ox + 1076, 34, 4);
  gline(ox + 18, 124, ox + 1076, 124, 5);
  gline(ox + 21, 32, ox + 21, yb, 6);
  gline(ox + 1073, 32, ox + 1073, yb, 6);
  gline(ox + 340, 122, ox + 340, yb, 6);
  gline(ox + 435, 122, ox + 435, yb, 6);
  gline(ox + 753, 122, ox + 753, yb, 7);
  if (yb < 1778) gline(ox + 18, yb, ox + 1076, yb, 5);
  const grGrad = new echarts.graphic.LinearGradient(0, 0, 1, 0, GR_PALETTE.map(([v]) => ({offset: v / GR_RANGE[1], color: grColor(v)})));
  grect(ox + 24, 38, 311, 39, {fill: '#fff', stroke: '#555', lineWidth: 1.5});
  grect(ox + 25, 39, 309, 18, {fill: grGrad}, 106);
  gtext(GR_NAMES[p], ox + 179.5, 48, 'center');
  gtext(String(GR_RANGE[0]), ox + 27, 68, 'left'); gtext('API', ox + 179.5, 68, 'center'); gtext(String(GR_RANGE[1]), ox + 333, 68, 'right');
  grect(ox + 24, 81, 311, 37, {fill: '#fff', stroke: '#555', lineWidth: 1.5});
  gtext(GR_NAMES[p], ox + 179.5, 90, 'center');
  grect(ox + 26, 97, 307, 5, {fill: '#000'}, 106);
  gtext(String(GR_RANGE[0]), ox + 27, 109, 'left'); gtext('API', ox + 179.5, 109, 'center'); gtext(String(GR_RANGE[1]), ox + 333, 109, 'right');
  grect(ox + 440, 38, 310, 39, {fill: '#fff', stroke: '#555', lineWidth: 1.5});
  gtext('QL_SW', ox + 595, 48, 'center');
  grect(ox + 442, 55, 306, 5, {fill: '#0000FF'}, 106);
  gtext('1', ox + 443, 68, 'left'); gtext('V/V', ox + 595, 68, 'center'); gtext('0', ox + 747, 68, 'right');
  grect(ox + 440, 81, 310, 37, {fill: '#fff', stroke: '#555', lineWidth: 1.5});
  gtext('CSW', ox + 595, 90, 'center');
  gtext('1', ox + 443, 109, 'left'); gtext(CSW_UNITS[p], ox + 595, 109, 'center'); gtext('0', ox + 747, 109, 'right');
  gx(ox + 515, 113, '#FF0000'); gx(ox + 671, 113, '#FF0000');
  grect(ox + 761, 38, 307, 39, {fill: '#fff', stroke: '#555', lineWidth: 1.5});
  gtext('CSO', ox + 914.5, 48, 'center');
  gtext('0', ox + 764, 68, 'left'); gtext(CSO_UNITS[p], ox + 914.5, 68, 'center'); gtext('1', ox + 1066, 68, 'right');
  gx(ox + 835, 77, '#800080'); gx(ox + 990, 77, '#800080');
});

const chart = echarts.init(document.getElementById('c'), null, {renderer: 'canvas'});
chart.setOption({
  animation: false,
  backgroundColor: '#fff',
  textStyle: {fontFamily: FONT},
  grid: grids, xAxis: xAxes, yAxis: yAxes, series: series,
  graphic: {elements: G}
});
</script>
</body></html>
